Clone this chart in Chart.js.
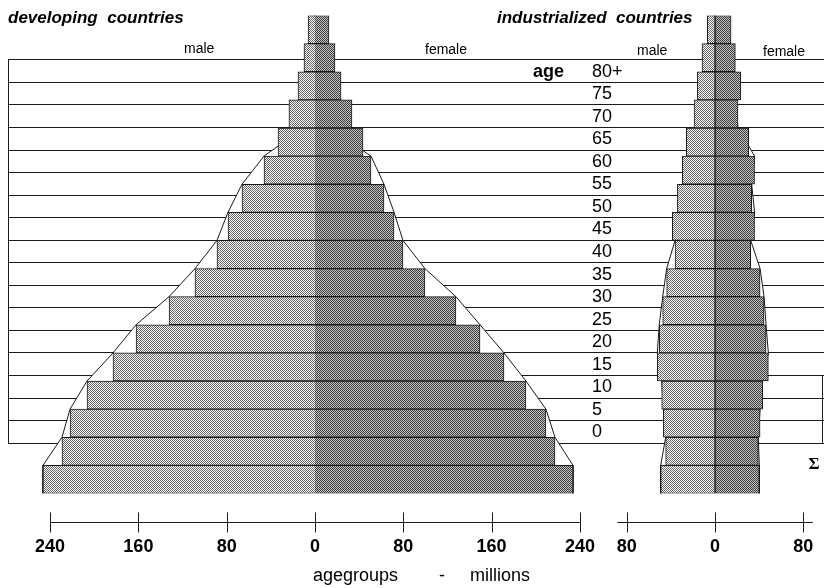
<!DOCTYPE html>
<html>
<head>
<meta charset="utf-8">
<script src="https://cdn.jsdelivr.net/npm/chart.js@4.4.0/dist/chart.umd.min.js"></script>
<style>
    html, body { margin: 0; padding: 0; background: #fff; }
    #quadro { position: relative; width: 824px; height: 588px; }
</style>
</head>
<body>
<div id="quadro"><canvas id="piramide"></canvas></div>
<script>
// Faixas etarias (de cima para baixo)
const faixas = ['80+', '75', '70', '65', '60', '55', '50', '45', '40', '35', '30', '25', '20', '15', '10', '5', '0'];

// Paises em desenvolvimento - milhoes
const desenvHomens = [6.3, 10.0, 15.4, 23.6, 33.5, 46.2, 66.1, 78.8, 88.8, 108.7, 132.2, 162.1, 183.0, 206.5, 221.9, 229.2, 246.4];
const desenvMulheres = [12.7, 18.1, 23.6, 33.5, 43.5, 50.7, 62.5, 71.6, 79.7, 99.6, 127.7, 149.5, 171.2, 191.1, 209.2, 217.4, 233.7];

// Paises industrializados - milhoes
const industHomens = [7.0, 11.8, 16.0, 19.0, 26.0, 29.6, 34.1, 38.7, 36.2, 43.8, 47.4, 50.5, 52.3, 48.3, 46.8, 44.7, 49.2];
const industMulheres = [14.5, 18.4, 23.3, 20.8, 30.5, 35.8, 33.2, 35.8, 32.3, 40.8, 44.4, 46.2, 48.3, 43.2, 40.8, 39.2, 40.1];

// Contorno (valor no topo de cada faixa + base)
const contornoDesenvH = [0, 2, 5, 8, 10, 46.2, 66.1, 78.8, 88.8, 108.7, 132.2, 162.1, 183.0, 206.5, 221.9, 229.2, 246.4, 246.4];
const contornoDesenvM = [0, 2, 5, 8, 13, 50.7, 62.5, 71.6, 79.7, 99.6, 127.7, 149.5, 171.2, 191.1, 209.2, 217.4, 233.7, 233.7];
const contornoIndustH = [0, 5, 10, 14, 18, 24, 28, 32, 36.2, 43.8, 47.4, 50.5, 52.3, 48.3, 46.8, 44.7, 49.2, 49.2];
const contornoIndustM = [0, 8, 14, 16, 21, 35.8, 33.2, 35.8, 32.3, 40.8, 44.4, 46.2, 48.3, 43.2, 40.8, 39.2, 40.1, 40.1];

// Marcas dos eixos
const ticksDesenv = [-240, -160, -80, 0, 80, 160, 240];
const ticksIndust = [-80, 0, 80];

const fonte = '"Liberation Sans", Arial, sans-serif';

function criarPadrao(claro, escuro) {
    const c = document.createElement('canvas');
    c.width = 2;
    c.height = 2;
    const g = c.getContext('2d');
    g.fillStyle = claro;
    g.fillRect(0, 0, 2, 2);
    g.fillStyle = escuro;
    g.fillRect(0, 0, 1, 1);
    g.fillRect(1, 1, 1, 1);
    return g.createPattern(c, 'repeat');
}

const padraoHomem = criarPadrao('#ffffff', '#666666');
const padraoMulher = criarPadrao('#c4c4c4', '#3c3c3c');

function barras(valores, sinal, eixo, padrao, pular) {
    return {
        type: 'bar',
        data: valores.map(v => sinal * v),
        xAxisID: eixo,
        yAxisID: 'y',
        backgroundColor: padrao,
        borderColor: '#1a1a1a',
        borderWidth: 1,
        borderSkipped: pular,
        grouped: false,
        barPercentage: 1,
        categoryPercentage: 1,
        order: 1
    };
}

function contorno(valores, sinal, eixo) {
    return {
        type: 'line',
        indexAxis: 'y',
        data: valores.map((v, i) => ({ x: sinal * v, y: i - 0.5 })),
        xAxisID: eixo,
        yAxisID: 'yEnv',
        borderColor: '#1a1a1a',
        borderWidth: 1,
        backgroundColor: '#ffffff',
        fill: 'origin',
        pointRadius: 0,
        tension: 0,
        order: 5
    };
}

function desenharEixo(ctx, escala, valores, extra, y0) {
    ctx.beginPath();
    ctx.moveTo(escala.getPixelForValue(valores[0] - extra), y0);
    ctx.lineTo(escala.getPixelForValue(valores[valores.length - 1] + extra), y0);
    valores.forEach(v => {
        const x = Math.round(escala.getPixelForValue(v)) + 0.5;
        ctx.moveTo(x, y0 - 10);
        ctx.lineTo(x, y0 + 10);
    });
    ctx.stroke();
    valores.forEach(v => {
        ctx.fillText(String(Math.abs(v)), escala.getPixelForValue(v), y0 + 25);
    });
}

function texto(ctx, t, x, y, font, align) {
    ctx.font = font;
    ctx.textAlign = align || 'left';
    ctx.fillText(t, x, y);
}

// linhas das faixas, eixos e textos
const desenhoExtra = {
    id: 'desenhoExtra',
    beforeDatasetsDraw(chart) {
        const { ctx, chartArea, scales } = chart;
        const yF = scales.yFaixas;
        ctx.save();
        ctx.strokeStyle = '#1a1a1a';
        ctx.lineWidth = 1;
        ctx.beginPath();
        for (let k = 0; k <= faixas.length; k++) {
            const y = Math.round(yF.getPixelForValue(k)) + 0.5;
            ctx.moveTo(chartArea.left, y);
            ctx.lineTo(chartArea.right, y);
        }
        ctx.moveTo(chartArea.left + 0.5, Math.round(yF.getPixelForValue(faixas.length)) + 0.5);
        ctx.lineTo(chartArea.left + 0.5, Math.round(yF.getPixelForValue(0)) + 0.5);
        ctx.moveTo(chartArea.right - 1.5, Math.round(yF.getPixelForValue(3)) + 0.5);
        ctx.lineTo(chartArea.right - 1.5, Math.round(yF.getPixelForValue(0)) + 0.5);
        ctx.stroke();
        ctx.restore();
    },
    afterDatasetsDraw(chart) {
        const { ctx, chartArea, scales } = chart;
        const yF = scales.yFaixas;
        ctx.save();
        ctx.fillStyle = '#000';
        ctx.strokeStyle = '#1a1a1a';
        ctx.lineWidth = 1;
        ctx.textBaseline = 'alphabetic';

        texto(ctx, 'developing  countries', 8, 23, 'italic bold 17px ' + fonte);
        texto(ctx, 'industrialized  countries', 497, 23, 'italic bold 17px ' + fonte);
        texto(ctx, 'male', 184, 53, '14px ' + fonte);
        texto(ctx, 'female', 425, 54, '14px ' + fonte);
        texto(ctx, 'male', 637, 55, '14px ' + fonte);
        texto(ctx, 'female', 763, 56, '14px ' + fonte);

        ctx.textBaseline = 'middle';
        texto(ctx, 'age', 533, yF.getPixelForValue(16.5) + 1, 'bold 18px ' + fonte);
        faixas.forEach((f, i) => {
            texto(ctx, f, 592, yF.getPixelForValue(16.5 - i) + 1, '18px ' + fonte);
        });
        texto(ctx, 'Σ', 814, 465, 'bold 17px "Liberation Serif", serif', 'center');

        // eixos inferiores
        const y0 = Math.round(chartArea.bottom + 28) + 0.5;
        ctx.font = 'bold 18px ' + fonte;
        ctx.textAlign = 'center';
        desenharEixo(ctx, scales.xL, ticksDesenv, 0, y0);
        desenharEixo(ctx, scales.xR, ticksIndust, 8.5, y0);

        texto(ctx, 'agegroups', 313, 576, '18px ' + fonte);
        texto(ctx, '-', 442, 576, '18px ' + fonte, 'center');
        texto(ctx, 'millions', 470, 576, '18px ' + fonte);
        ctx.restore();
    }
};

const ctx = document.getElementById('piramide').getContext('2d');

const grafico = new Chart(ctx, {
    type: 'bar',
    data: {
        labels: faixas,
        datasets: [
            barras(desenvHomens, -1, 'xL', padraoHomem, 'start'),
            barras(desenvMulheres, 1, 'xL', padraoMulher, 'start'),
            barras(industHomens, -1, 'xR', padraoHomem, false),
            barras(industMulheres, 1, 'xR', padraoMulher, false),
            contorno(contornoDesenvH, -1, 'xL'),
            contorno(contornoDesenvM, 1, 'xL'),
            contorno(contornoIndustH, -1, 'xR'),
            contorno(contornoIndustM, 1, 'xR')
        ]
    },
    options: {
        indexAxis: 'y',
        responsive: true,
        maintainAspectRatio: false,
        animation: false,
        layout: { padding: { left: 8, right: 0, top: 15.5, bottom: 94.5 } },
        plugins: {
            legend: { display: false },
            tooltip: { enabled: false }
        },
        scales: {
            y: { type: 'category', display: false, offset: true },
            yEnv: { type: 'linear', display: false, offset: false, reverse: true, min: -0.5, max: 16.5 },
            yFaixas: { type: 'linear', display: false, offset: false, min: -2.2525, max: 18.942 },
            xL: { type: 'linear', display: false, offset: false, min: -278.1, max: 461.1 },
            xR: { type: 'linear', display: false, offset: false, min: -640.4, max: 98.7 }
        }
    },
    plugins: [desenhoExtra]
});
</script>
</body>
</html>
